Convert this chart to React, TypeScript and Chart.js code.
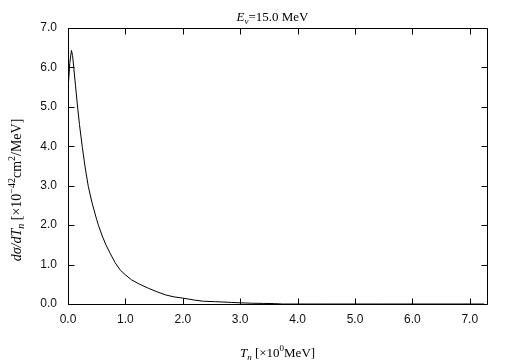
import React, { useEffect, useRef } from "react";
import { Chart, registerables } from "chart.js";

Chart.register(...registerables);

// Data
const TN: number[] = [0, 0.005, 0.012, 0.03, 0.06, 0.08, 0.1, 0.13, 0.16, 0.2, 0.25, 0.3, 0.354, 0.42, 0.5, 0.53, 0.59, 0.66, 0.74, 0.82, 0.91, 1.0, 1.11, 1.25, 1.4, 1.55, 1.7, 1.85, 2.0, 2.2, 2.36, 2.55, 2.7, 2.85, 3.0, 3.2, 3.4, 3.6, 3.73, 4.5, 5.5, 6.5, 7.25];
const SIGMA: number[] = [4.24, 5.0, 5.6, 6.1, 6.43, 6.3, 6.0, 5.55, 5.1, 4.55, 3.97, 3.45, 2.98, 2.56, 2.14, 2.0, 1.75, 1.5, 1.27, 1.05, 0.86, 0.74, 0.61, 0.5, 0.4, 0.31, 0.23, 0.18, 0.15, 0.1, 0.07, 0.06, 0.05, 0.04, 0.03, 0.02, 0.015, 0.01, 0.0, 0, 0, 0, 0];
const X_TICKS: number[] = [0, 1, 2, 3, 4, 5, 6, 7];
const Y_TICKS: number[] = [0, 1, 2, 3, 4, 5, 6, 7];
const X_MAX = 7.3;
const Y_MAX = 7;

type Run = { t: string; i?: boolean; sub?: boolean; sup?: boolean };
const TITLE_RUNS: Run[] = [{ t: "E", i: true }, { t: "ν", i: true, sub: true }, { t: "=15.0 MeV" }];
const XLABEL_RUNS: Run[] = [{ t: "T", i: true }, { t: "n", i: true, sub: true }, { t: " [×10" }, { t: "0", sup: true }, { t: "MeV]" }];
const YLABEL_RUNS: Run[] = [
  { t: "dσ/dT", i: true },
  { t: "n", i: true, sub: true },
  { t: " [×10" },
  { t: "−42", sup: true },
  { t: "cm" },
  { t: "2", sup: true },
  { t: "/MeV]" },
];

const SERIF = "'Liberation Serif', 'DejaVu Serif', serif";

function fontFor(r: Run, big: number) {
  const size = r.sub || r.sup ? Math.round(big * 0.72) : big;
  return `${r.i ? "italic " : ""}${size}px ${SERIF}`;
}

function drawRuns(ctx: CanvasRenderingContext2D, runs: Run[], cx: number, baseline: number, rotate: boolean, big: number) {
  ctx.save();
  ctx.translate(cx, baseline);
  if (rotate) ctx.rotate(-Math.PI / 2);
  let total = 0;
  for (const r of runs) {
    ctx.font = fontFor(r, big);
    total += ctx.measureText(r.t).width;
  }
  let x = -total / 2;
  ctx.fillStyle = "#000";
  ctx.textBaseline = "alphabetic";
  ctx.textAlign = "left";
  for (const r of runs) {
    ctx.font = fontFor(r, big);
    const dy = r.sub ? 3 : r.sup ? -6 : 0;
    ctx.fillText(r.t, x, dy);
    x += ctx.measureText(r.t).width;
  }
  ctx.restore();
}

const framePlugin = {
  id: "frameAndLabels",
  afterDraw(chart: any) {
    const ctx: CanvasRenderingContext2D = chart.ctx;
    const { left, right, top, bottom } = chart.chartArea;
    const xs = chart.scales.x;
    const ys = chart.scales.y;
    const l = Math.round(left) + 0.5;
    const r = Math.round(right) + 0.5;
    const t = Math.round(top) + 0.5;
    const b = Math.round(bottom) + 0.5;
    ctx.save();
    ctx.strokeStyle = "#000";
    ctx.lineWidth = 1;
    ctx.beginPath();
    ctx.moveTo(l, t);
    ctx.lineTo(r, t);
    ctx.lineTo(r, b);
    ctx.lineTo(l, b);
    ctx.closePath();
    const L = 6;
    for (const v of X_TICKS) {
      const px = Math.round(xs.getPixelForValue(v)) + 0.5;
      ctx.moveTo(px, b);
      ctx.lineTo(px, b - L);
      ctx.moveTo(px, t);
      ctx.lineTo(px, t + L);
    }
    for (const v of Y_TICKS) {
      const py = Math.round(ys.getPixelForValue(v)) + 0.5;
      ctx.moveTo(l, py);
      ctx.lineTo(l + L, py);
      ctx.moveTo(r, py);
      ctx.lineTo(r - L, py);
    }
    ctx.stroke();
    ctx.restore();
    drawRuns(ctx, TITLE_RUNS, (left + right) / 2 - 5, 21, false, 13);
    drawRuns(ctx, XLABEL_RUNS, (left + right) / 2, 357, false, 13);
    drawRuns(ctx, YLABEL_RUNS, 21, 190, true, 14);
  },
};

export default function App() {
  const ref = useRef<HTMLCanvasElement | null>(null);
  useEffect(() => {
    document.body.style.margin = "0";
    if (!ref.current) return;
    const chart = new Chart(ref.current, {
      type: "line",
      data: {
        datasets: [
          {
            data: TN.map((t, i) => ({ x: t, y: SIGMA[i] })),
            borderColor: "#000",
            borderWidth: 1,
            pointRadius: 0,
            tension: 0,
            fill: false,
          },
        ],
      },
      options: {
        animation: false,
        responsive: false,
        maintainAspectRatio: false,
        layout: { padding: { left: 0, right: 18, top: 28, bottom: 0 } },
        plugins: { legend: { display: false }, tooltip: { enabled: false }, title: { display: false } },
        scales: {
          x: {
            type: "linear",
            min: 0,
            max: X_MAX,
            afterBuildTicks: (s: any) => {
              s.ticks = X_TICKS.map((v) => ({ value: v }));
            },
            afterFit: (s: any) => {
              s.height = 57;
            },
            grid: { display: false, drawTicks: false },
            border: { display: false },
            ticks: {
              padding: 8,
              color: "#111",
              font: { family: "'Liberation Sans', Arial, sans-serif", size: 12 },
              callback: (v: any) => Number(v).toFixed(1),
              maxRotation: 0,
            },
          },
          y: {
            type: "linear",
            min: 0,
            max: Y_MAX,
            afterBuildTicks: (s: any) => {
              s.ticks = Y_TICKS.map((v) => ({ value: v }));
            },
            afterFit: (s: any) => {
              s.width = 68;
            },
            grid: { display: false, drawTicks: false },
            border: { display: false },
            ticks: {
              padding: 11,
              color: "#111",
              font: { family: "'Liberation Sans', Arial, sans-serif", size: 12 },
              callback: (v: any) => Number(v).toFixed(1),
            },
          },
        },
      },
      plugins: [framePlugin],
    });
    return () => chart.destroy();
  }, []);
  return (
    <div style={{ position: "absolute", left: 0, top: 0, width: 505, height: 361, background: "#fff" }}>
      <canvas ref={ref} width={505} height={361} style={{ width: 505, height: 361 }} />
    </div>
  );
}
